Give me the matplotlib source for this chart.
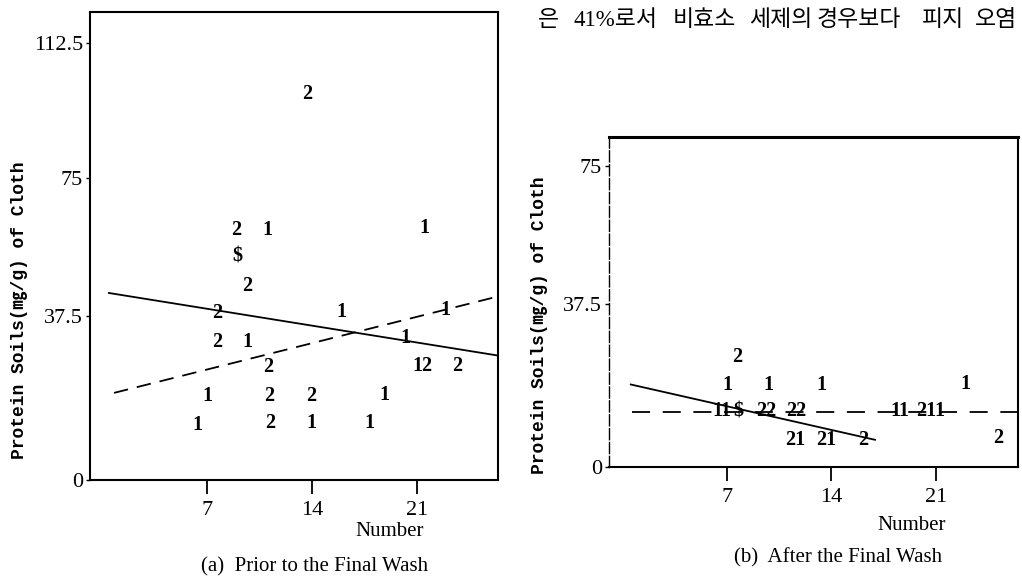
import numpy as np
import matplotlib
matplotlib.use("Agg")
import matplotlib.pyplot as plt

W, H = 1022, 581

# ---------------- data ----------------
# (a) Prior to the Final Wash : plot symbols (1 / 2 / $) at (number, soil)
a_x = [13.63, 8.9, 10.97, 21.43, 8.97, 9.63, 7.63, 15.9, 22.83, 7.63, 9.63, 20.17,
       11.03, 21.3, 23.63, 6.97, 11.1, 13.9, 18.77, 6.3, 11.17, 13.9, 17.77]
a_y = [98.3, 60.9, 60.9, 61.4, 53.5, 45.7, 38.3, 38.6, 39.1, 31.6, 31.6, 32.5,
       25.8, 26.1, 26.1, 19.2, 19.2, 19.2, 19.4, 12.6, 13.0, 13.0, 13.0]
a_sym = ["2", "2", "1", "1", "$", "2", "2", "1", "1", "2", "1", "1",
         "2", "12", "2", "1", "2", "2", "1", "1", "2", "1", "1"]
a_solid_x = [0.37, 26.43]
a_solid_y = [43.75, 28.4]
a_dash_x = [0.77, 26.3]
a_dash_y = [19.9, 42.7]

# (b) After the Final Wash
b_x = [7.67, 7.0, 9.75, 13.36, 23.0, 6.67, 7.74, 9.61, 11.62, 18.59, 20.66,
       11.55, 13.63, 16.1, 25.15]
b_y = [25.2, 18.75, 18.75, 18.75, 19.0, 12.8, 12.8, 12.8, 12.8, 12.8, 12.8,
       6.2, 6.2, 6.2, 6.6]
b_sym = ["2", "1", "1", "1", "1", "11", "$", "22", "22", "11", "211",
         "21", "21", "2", "2"]
b_solid_x = [0.5, 16.98]
b_solid_y = [19.0, 6.2]
b_dash_x = [0.64, 26.5]
b_dash_y = [12.6, 12.6]

x_ticks = [7, 14, 21]
a_yticks = [0, 37.5, 75, 112.5]
a_ylabels = ["0", "37.5", "75", "112.5"]
b_yticks = [0, 37.5, 75]
b_ylabels = ["0", "37.5", "75"]

# running text line above panel (b), split into its printed words
kor_words = ["은", "41%로서", "비효소", "세제의", "경우보다", "피지", "오염"]
kor_x_px = [538, 573, 673, 749, 817, 922, 975]

# uneven printed y scale (tick spacing as printed)
KN_V = np.array([-100.0, 0.0, 37.5, 75.0, 112.5, 250.0])
KN_P = np.array([-437.3, 0.0, 164.0, 302.0, 437.0, 437.0 + 137.5 * 3.6])


def fwd(v):
    return np.interp(v, KN_V, KN_P)


def inv(p):
    return np.interp(p, KN_P, KN_V)


SERIF = "Liberation Serif"
fig = plt.figure(figsize=(W / 100, H / 100), dpi=100)


def px_axes(l, t, r, b):
    return fig.add_axes([l / W, 1 - b / H, (r - l) / W, (b - t) / H])


def setup(ax, ylim, yt, yl):
    ax.set_yscale("function", functions=(fwd, inv))
    ax.set_ylim(*ylim)
    ax.set_yticks(yt)
    ax.set_yticklabels(yl)
    ax.set_xticks(x_ticks)
    ax.set_xticklabels([str(t) for t in x_ticks])
    ax.tick_params(axis="x", direction="out", length=10, width=1.3, pad=5,
                   labelsize=16)
    ax.tick_params(axis="y", direction="out", length=3, width=1.0, pad=2,
                   labelsize=16)
    for lab in ax.get_xticklabels() + ax.get_yticklabels():
        lab.set_family(SERIF)
    for s in ax.spines.values():
        s.set_linewidth(1.5)
        s.set_color("black")


def draw(ax, xs, ys, syms, sx, sy, dx, dy, dash):
    ax.plot(sx, sy, color="black", lw=1.3, solid_capstyle="butt")
    ax.plot(dx, dy, color="black", lw=1.3, linestyle=dash)
    for x, y, s in zip(xs, ys, syms):
        ax.text(x, y, s, ha="center", va="center", fontsize=14.5,
                family=SERIF, fontweight="bold", color="black")


# ---- panel (a)
ax1 = px_axes(90, 12, 498, 480)
ax1.set_xlim(-0.83, 26.37)
setup(ax1, (0, 121), a_yticks, a_ylabels)
draw(ax1, a_x, a_y, a_sym, a_solid_x, a_solid_y, a_dash_x, a_dash_y,
     (0, (8, 5)))

# ---- panel (b)
ax2 = px_axes(609, 137, 1018, 467)
ax2.set_xlim(-0.9, 26.5)
setup(ax2, (0, 83.2), b_yticks, b_ylabels)
ax2.spines["top"].set_linewidth(2.2)
ax2.spines["left"].set_linestyle((0, (8, 2)))
ax2.spines["left"].set_linewidth(1.0)
draw(ax2, b_x, b_y, b_sym, b_solid_x, b_solid_y, b_dash_x, b_dash_y,
     (0, (10, 7)))


def ftext(x, y, s, **kw):
    fig.text(x / W, 1 - y / H, s, **kw)


YLAB = "Protein Soils(\u338e/g) of Cloth"
ylab_font = ["Liberation Mono", "Noto Sans CJK KR"]
ftext(20, 310, YLAB, rotation=90, ha="center", va="center", fontsize=13,
      family=ylab_font, fontweight="bold")
ftext(540, 325, YLAB, rotation=90, ha="center", va="center", fontsize=13,
      family=ylab_font, fontweight="bold")

ftext(390, 532, "Number", ha="center", va="center", fontsize=15, family=SERIF)
ftext(912, 525, "Number", ha="center", va="center", fontsize=15, family=SERIF)
ftext(315, 567, "(a)  Prior to the Final Wash", ha="center", va="center",
      fontsize=15, family=SERIF)
ftext(838, 558, "(b)  After the Final Wash", ha="center", va="center",
      fontsize=15, family=SERIF)

for w, xp in zip(kor_words, kor_x_px):
    ftext(xp, 20, w, ha="left", va="center", fontsize=16.5,
          family=[SERIF, "Noto Sans CJK KR"])

fig.savefig("out.png", dpi=100)
